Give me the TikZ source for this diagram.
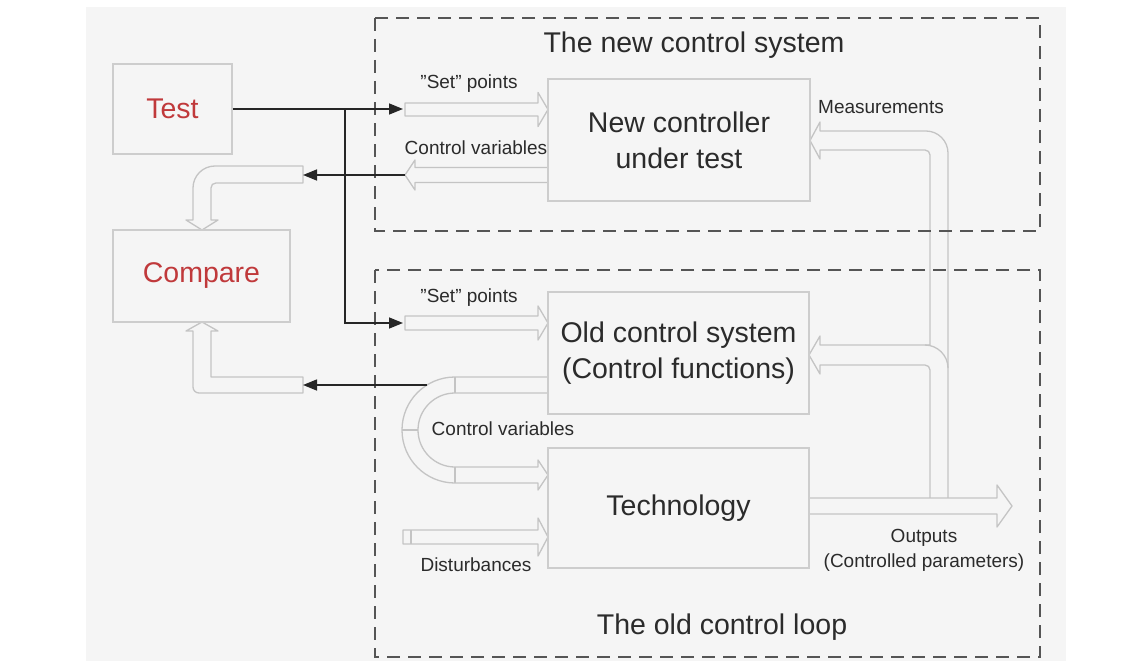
\documentclass[tikz,border=0pt]{standalone}
\usepackage{fontspec}
\setmainfont{Liberation Sans}
\usetikzlibrary{arrows.meta}
\definecolor{bg}{HTML}{F5F5F5}
\definecolor{tubec}{HTML}{C4C4C4}
\definecolor{boxc}{HTML}{CDCDCD}
\definecolor{dashc}{HTML}{555555}
\definecolor{txt}{HTML}{2B2B2B}
\definecolor{redt}{HTML}{C0393B}
\newcommand\dq{\char34\relax}
% #1 x start, #2 x tip, #3 y mid, #4 half band, #5 half head, #6 head length
\newcommand\fatright[6]{\filldraw[tube] (#1,#3-#4) -- (#2-#6,#3-#4) -- (#2-#6,#3-#5) -- (#2,#3) -- (#2-#6,#3+#5) -- (#2-#6,#3+#4) -- (#1,#3+#4) -- cycle;}
\newcommand\fatleft[6]{\filldraw[tube] (#1,#3-#4) -- (#2+#6,#3-#4) -- (#2+#6,#3-#5) -- (#2,#3) -- (#2+#6,#3+#5) -- (#2+#6,#3+#4) -- (#1,#3+#4) -- cycle;}
\begin{document}
\begin{tikzpicture}[x=1pt,y=-1pt,
  tube/.style={draw=tubec, line width=1.3pt, fill=bg, line join=round},
  dbox/.style={draw=dashc, line width=1.8pt, dash pattern=on 13pt off 8pt},
  blk/.style={draw=black!85, line width=1.5pt, -{Triangle[length=14pt,width=11pt]}},
  box/.style={draw=boxc, line width=1.5pt, fill=bg, inner sep=0pt},
  bigt/.style={font=\fontsize{28.5}{36}\selectfont, text=txt, align=center},
  lab/.style={font=\fontsize{19}{25}\selectfont, text=txt, inner sep=0pt, align=center}]
\useasboundingbox (0,0) rectangle (1138,661);
\fill[white] (0,0) rectangle (1138,661);
\fill[bg] (86,7) rectangle (1066,661);

% ---- fat (hollow) arrows ----
\fatright{405}{548}{109.5}{6.5}{17}{10}
\fatleft{548}{405}{175}{7.5}{15}{10}
\fatright{405}{548}{323}{7}{17}{10}
\fatright{403}{548}{537}{7}{19}{10}
\draw[tube] (411,530) -- (411,544);

% compare input from top
\filldraw[tube] (303,166) -- (215,166) .. controls (202.8,166) and (193,175.8) .. (193,188) -- (193,220) -- (186,220) -- (202,230) -- (218,220) -- (211,220) -- (211,188) .. controls (211,185) and (213,183) .. (216,183) -- (303,183) -- cycle;
% compare input from bottom
\filldraw[tube] (303,377) -- (211,377) -- (211,331) -- (218,331) -- (202,322) -- (186,331) -- (193,331) -- (193,387) .. controls (193,390.3) and (195.7,393) .. (199,393) -- (303,393) -- cycle;

% control variables U-tube
\filldraw[tube] (548,377) -- (455,377) .. controls (425.7,377) and (402,400.7) .. (402,430) .. controls (402,459.3) and (425.7,483) .. (455,483) -- (538,483) -- (538,490) -- (548,475) -- (538,460) -- (538,467) -- (455,467) .. controls (434.6,467) and (418,450.4) .. (418,430) .. controls (418,409.6) and (434.6,393) .. (455,393) -- (548,393);
\draw[tube] (402,430) -- (418,430) (455,377) -- (455,393) (455,467) -- (455,483);

% measurements tube with branch
\filldraw[tube] (948,498) -- (948,153) .. controls (948,140.9) and (938.1,131) .. (926,131) -- (820,131) -- (820,122) -- (810,140.5) -- (820,159) -- (820,150) -- (925,150) .. controls (927.8,150) and (930,152.2) .. (930,155) -- (930,345) -- (820,345) -- (820,336) -- (809,355) -- (820,374) -- (820,365) -- (925,365) .. controls (927.8,365) and (930,367.2) .. (930,370) -- (930,498);
\draw[tube, fill=none] (925,345) .. controls (937,345) and (948,355) .. (948,368);

% outputs
\fatright{809}{1012}{506}{8}{21}{15}

% ---- dashed frames ----
\draw[dbox] (375,18) rectangle (1040,231);
\draw[dbox] (375,270) rectangle (1040,657);

% ---- boxes ----
\node[box, bigt, text=redt, minimum width=119pt, minimum height=90pt] (test) at (172.5,109) {Test};
\node[box, bigt, text=redt, minimum width=177pt, minimum height=92pt] (compare) at (201.5,276) {Compare};
\node[box, bigt, minimum width=262pt, minimum height=122pt] (newc) at (679,140) {New controller\\under test};
\node[box, bigt, minimum width=261pt, minimum height=122pt] (oldc) at (678.5,353) {Old control system\\(Control functions)};
\node[box, bigt, minimum width=261pt, minimum height=120pt] (tech) at (678.5,508) {Technology};

% ---- black signal arrows ----
\coordinate (spA) at (403,109);
\coordinate (jn) at (345,109);
\coordinate (spC) at (403,323);
\coordinate (cvA) at (405,175);
\coordinate (cvAe) at (303,175);
\coordinate (cvB) at (427,385);
\coordinate (cvBe) at (303,385);
\draw[blk] (test.east) -- (spA);
\draw[blk] (jn) |- (spC);
\draw[blk] (cvA) -- (cvAe);
\draw[blk] (cvB) -- (cvBe);

% ---- labels ----
\node[bigt] (tnew) at (694,45) {The new control system};
\node[bigt] (told) at (722,627) {The old control loop};
\node[lab] (lsp1) at (469,84) {\dq Set\dq{} points};
\node[lab] (lcv1) at (476,148) {Control variables};
\node[lab] (lmeas) at (881,107) {Measurements};
\node[lab] (lsp2) at (469,298) {\dq Set\dq{} points};
\node[lab] (lcv2) at (503,429) {Control variables};
\node[lab] (ldist) at (476,565) {Disturbances};
\node[lab] (lout) at (924,550) {Outputs\\(Controlled parameters)};
\end{tikzpicture}
\end{document}
